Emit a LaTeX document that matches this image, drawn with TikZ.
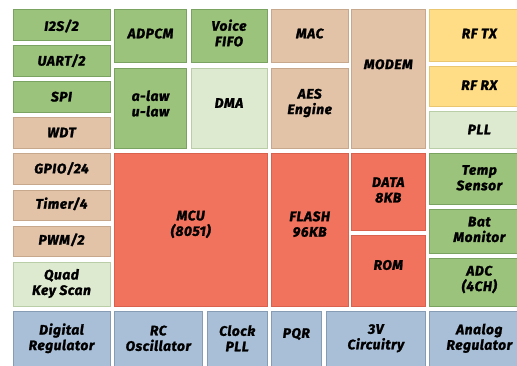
\documentclass[tikz,border=0pt]{standalone}
\usepackage{fontspec}
\setmainfont{Fira Sans}[BoldItalicFeatures={FakeBold=1.6, LetterSpace=4}]
\tikzset{
  green/.style={fill={rgb,255:red,155;green,195;blue,123}, draw={rgb,255:red,122;green,163;blue,98}},
  lgreen/.style={fill={rgb,255:red,221;green,234;blue,207}, draw={rgb,255:red,185;green,206;blue,166}},
  tan/.style={fill={rgb,255:red,226;green,195;blue,168}, draw={rgb,255:red,200;green,168;blue,141}},
  red/.style={fill={rgb,255:red,242;green,115;blue,93}, draw={rgb,255:red,217;green,98;blue,79}},
  yellow/.style={fill={rgb,255:red,254;green,221;blue,134}, draw={rgb,255:red,233;green,198;blue,111}},
  blue/.style={fill={rgb,255:red,168;green,191;blue,215}, draw={rgb,255:red,134;green,156;blue,180}},
  lbl/.style={align=center, inner sep=0pt, font=\fontsize{13.8}{15.5}\selectfont\bfseries\itshape}
}
\newcommand{\blk}[8]{%
  \path[#5, line width=1pt] (#1,#2) rectangle (#3,#4);
  \node[lbl] (#6) at (#7) {#8};}
\begin{document}
\begin{tikzpicture}[x=1pt,y=-1pt]
\useasboundingbox (0,0) rectangle (517,365);
\clip (0,0) rectangle (517,365);
\fill[white] (0,0) rectangle (517,365);
% left column
\blk{13.5}{9.5}{110}{40.7}{green}{i2s}{61.5,26}{I2S/2}
\blk{13.5}{45.7}{110}{76.7}{green}{uart}{61.5,60.7}{UART/2}
\blk{13.5}{81.7}{110}{112.7}{green}{spi}{61.5,96.7}{SPI}
\blk{13.5}{117.7}{110}{148.7}{tan}{wdt}{61.5,132.5}{WDT}
\blk{13.5}{153.7}{110}{184.7}{tan}{gpio}{61.5,168.5}{GPIO/24}
\blk{13.5}{190}{110}{220.7}{tan}{timer}{61.5,203.8}{Timer/4}
\blk{13.5}{226}{110}{256.7}{tan}{pwm}{61.5,239.8}{PWM/2}
\blk{13.5}{262}{110}{306}{lgreen}{quad}{61.5,283.5}{Quad\\Key Scan}
% second column
\blk{114.3}{9.3}{186.7}{62.7}{green}{adpcm}{150.5,33.5}{ADPCM}
\blk{114.3}{68}{186.7}{148.7}{green}{alaw}{150.5,103.5}{a-law\\u-law}
\blk{191}{9.3}{267}{62.7}{green}{fifo}{229,33}{Voice\\FIFO}
\blk{191}{68}{267}{148.7}{lgreen}{dma}{229,103}{DMA}
\blk{271.3}{9.3}{348}{62.7}{tan}{mac}{309.7,33.5}{MAC}
\blk{271.3}{68}{348}{148.7}{tan}{aes}{309.7,103}{AES\\Engine}
\blk{351.3}{9.3}{425.3}{148.7}{tan}{modem}{388.3,64.3}{MODEM}
% right column
\blk{429}{9.3}{530}{61}{yellow}{rftx}{479.3,33.5}{RF TX}
\blk{429}{66}{530}{106}{yellow}{rfrx}{479.3,85.2}{RF RX}
\blk{429}{111}{530}{148.7}{lgreen}{pll}{479.3,129.5}{PLL}
\blk{429}{153.7}{530}{204.3}{green}{temp}{479.3,177.8}{Temp\\Sensor}
\blk{429}{209.3}{530}{253.3}{green}{bat}{479.3,229.5}{Bat\\Monitor}
\blk{429}{258.3}{530}{306}{green}{adc}{479.3,279.5}{ADC\\(4CH)}
% memory / cpu
\blk{114.3}{153.7}{267}{306}{red}{mcu}{190.7,224.3}{MCU\\(8051)}
\blk{271.3}{153.7}{348}{306}{red}{flash}{309.7,224.2}{FLASH\\96KB}
\blk{351.3}{153.7}{425.3}{230.7}{red}{data}{388.3,190}{DATA\\8KB}
\blk{351.3}{235.7}{425.3}{306}{red}{rom}{388.3,265}{ROM}
% bottom row
\blk{13.5}{311}{110}{375}{blue}{dreg}{61.5,338.3}{Digital\\Regulator}
\blk{114.3}{311}{202.3}{375}{blue}{rc}{158.3,338.3}{RC\\Oscillator}
\blk{207.3}{311}{267}{375}{blue}{cpll}{237.2,338.3}{Clock\\PLL}
\blk{271.3}{311}{321.3}{375}{blue}{pqr}{296.3,334}{PQR}
\blk{326.3}{311}{425.3}{375}{blue}{v3}{375.8,338.3}{3V\\Circuitry}
\blk{429}{311}{530}{375}{blue}{areg}{479.3,338.3}{Analog\\Regulator}
\end{tikzpicture}
\end{document}
